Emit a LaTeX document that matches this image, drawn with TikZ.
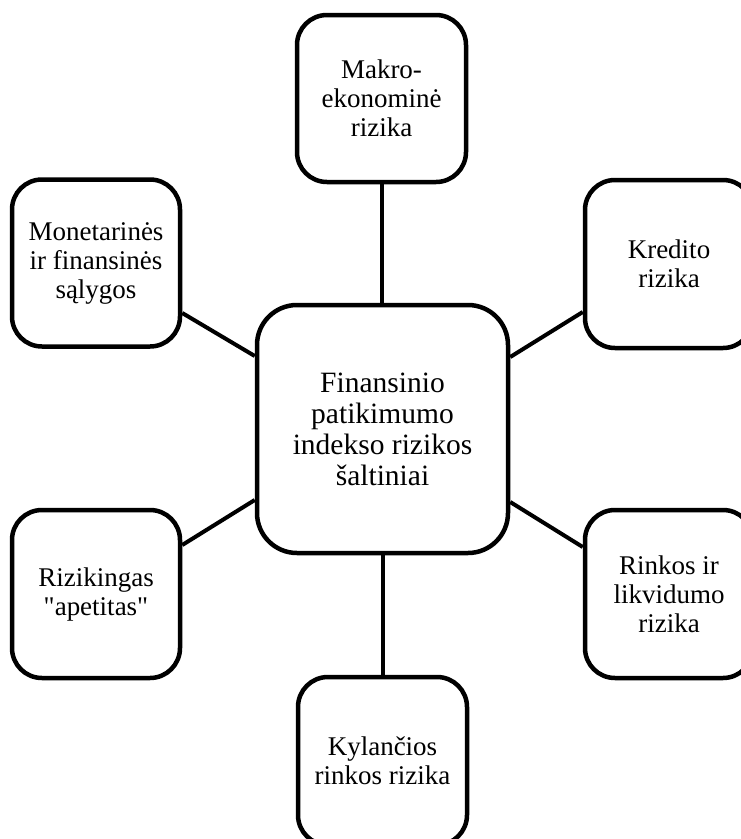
\documentclass[tikz,border=0pt]{standalone}
\usepackage{fontspec}
\setmainfont{Liberation Serif}[Ligatures=TeXOff]
\begin{document}
\begin{tikzpicture}[x=1pt,y=-1pt,
  riskbox/.style={draw=black, fill=white, line width=4.5pt, rounded corners=30pt,
    minimum width=168pt, minimum height=167pt, inner sep=0pt, align=center,
    font=\fontsize{27}{29}\selectfont},
  hubbox/.style={riskbox, rounded corners=40pt, minimum width=251pt, minimum height=248pt,
    font=\fontsize{29.5}{31}\selectfont},
  link/.style={draw=black, line width=4pt}]
\useasboundingbox (0,0) rectangle (741,839);
\clip (0,0) rectangle (741,839);

% central node
\node[hubbox] (hub) at (382.5,429) {Finansinio\\patikimumo\\indekso rizikos\\šaltiniai};

% surrounding risk sources
\node[riskbox, minimum width=169pt] (macro) at (381.5,98.5) {Makro-\\ekonominė\\rizika};
\node[riskbox] (monet) at (96,263) {Monetarinės\\ir finansinės\\sąlygos};
\node[riskbox, minimum height=168pt] (credit) at (669,264) {Kredito\\rizika};
\node[riskbox, minimum height=168pt] (appetite) at (96,594) {Rizikingas\\"apetitas"};
\node[riskbox, minimum height=168pt] (market) at (669,594) {Rinkos ir\\likvidumo\\rizika};
\node[riskbox, minimum width=169pt, minimum height=168pt] (emerging) at (382.5,761) {Kylančios\\rinkos rizika};

% connectors
\draw[link] (macro.south) -- (macro.south |- hub.north);
\draw[link] (hub.south) -- (hub.south |- emerging.north);
\draw[link] ([yshift=-50pt]monet.east) -- ([yshift=73pt]hub.west);
\draw[link] ([yshift=72pt]hub.east) -- ([yshift=-48pt]credit.west);
\draw[link] ([yshift=49pt]appetite.east) -- ([yshift=-71pt]hub.west);
\draw[link] ([yshift=-73pt]hub.east) -- ([yshift=47pt]market.west);
\end{tikzpicture}
\end{document}
